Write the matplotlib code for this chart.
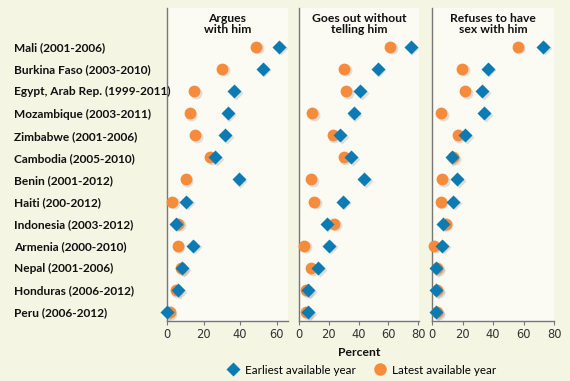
import matplotlib.pyplot as plt
import matplotlib.transforms as mtransforms
import numpy as np

# Countries (top to bottom) and percentages
countries = ["Mali (2001-2006)", "Burkina Faso (2003-2010)", "Egypt, Arab Rep. (1999-2011)",
             "Mozambique (2003-2011)", "Zimbabwe (2001-2006)", "Cambodia (2005-2010)",
             "Benin (2001-2012)", "Haiti (200-2012)", "Indonesia (2003-2012)",
             "Armenia (2000-2010)", "Nepal (2001-2006)", "Honduras (2006-2012)",
             "Peru (2006-2012)"]

argues_early = [61.5, 52.4, 36.8, 33.2, 32.0, 26.4, 39.2, 10.6, 5.1, 14.3, 8.4, 6.0, 0.0]
argues_late = [49.0, 30.2, 14.8, 12.5, 15.4, 23.5, 10.3, 2.9, 6.2, 5.9, 7.8, 4.8, 1.5]

goes_early = [75.0, 52.8, 41.0, 36.7, 27.5, 35.0, 43.8, 29.3, 18.6, 20.1, 13.0, 6.0, 6.0]
goes_late = [61.0, 30.2, 31.5, 8.9, 22.6, 30.0, 8.0, 10.3, 23.5, 3.6, 8.0, 4.7, 4.7]

refuses_early = [73.0, 36.6, 33.0, 34.2, 21.8, 13.0, 16.5, 13.7, 7.2, 6.5, 2.8, 2.8, 2.8]
refuses_late = [56.2, 19.6, 21.8, 5.9, 16.8, 13.7, 6.7, 5.6, 8.9, 1.5, 3.5, 3.2, 3.2]

titles = ["Argues\nwith him", "Goes out without\ntelling him", "Refuses to have\nsex with him"]
xmax = [66.3, 80.5, 80]

blue = "#0c7bb3"
orange = "#f68b3b"
grey = "#777777"

fig = plt.figure(figsize=(5.7, 3.81), dpi=100)
fig.patch.set_facecolor("#f4f5e3")

lefts = [167 / 570, 299 / 570, 432 / 570]
widths = [121 / 570, 120 / 570, 122 / 570]
bottom = 60 / 381
height = 313 / 381

y = np.arange(len(countries))
data = [(argues_early, argues_late), (goes_early, goes_late), (refuses_early, refuses_late)]

axes = []
for i, (early, late) in enumerate(data):
    ax = fig.add_axes([lefts[i], bottom, widths[i], height])
    ax.set_facecolor("#fbfbf4")
    axes.append(ax)

    # soft drop shadow under the markers
    shadow = mtransforms.offset_copy(ax.transData, fig=fig, x=1.2, y=-1.2, units="points")
    ax.plot(late, y, "o", ms=8.5, color="#888888", alpha=0.25, mec="none", transform=shadow, zorder=2)
    ax.plot(early, y, "D", ms=7, color="#888888", alpha=0.25, mec="none", transform=shadow, zorder=2)

    ax.plot(late, y, "o", ms=8.5, color=orange, mec="none", zorder=3, clip_on=False)
    ax.plot(early, y, "D", ms=7, color=blue, mec="none", zorder=4, clip_on=False)

    ax.set_xlim(0, xmax[i])
    ax.set_ylim(12.4, -1.75)
    ax.set_xticks([0, 20, 40, 60, 80] if i > 0 else [0, 20, 40, 60])
    ax.tick_params(axis="x", length=3, color=grey, labelsize=8.3, labelcolor="#333333", pad=2)

    for side in ["top", "right"]:
        ax.spines[side].set_visible(False)
    ax.spines["left"].set_color(grey)
    ax.spines["bottom"].set_color(grey)
    ax.spines["left"].set_linewidth(1.0)
    ax.spines["bottom"].set_linewidth(1.0)

    ax.text(0.5, 0.985, titles[i], transform=ax.transAxes, ha="center", va="top",
            fontsize=8.7, fontweight="bold", color="#111111", linespacing=1.0, family="Lato")

    if i == 0:
        ax.set_yticks(y)
        ax.set_yticklabels(countries, fontsize=8.6, fontweight="bold", color="#111111", family="Lato")
        for lab in ax.get_yticklabels():
            lab.set_ha("left")
        ax.tick_params(axis="y", length=0, pad=110)
    else:
        ax.set_yticks([])

axes[1].set_xlabel("Percent", fontsize=8.7, fontweight="bold", color="#111111", labelpad=4, family="Lato")

# legend
handles = [
    plt.Line2D([], [], ls="none", marker="D", ms=7, color=blue, mec="none"),
    plt.Line2D([], [], ls="none", marker="o", ms=9, color=orange, mec="none"),
]
fig.legend(handles, ["Earliest available year", "Latest available year"], loc="center",
           bbox_to_anchor=(0.632, 11 / 381), ncol=2, frameon=False,
           handletextpad=0.2, handlelength=1.6, columnspacing=1.3,
           prop={"family": "Lato", "size": 8.4})

fig.savefig("out.png", dpi=100, facecolor=fig.get_facecolor())
